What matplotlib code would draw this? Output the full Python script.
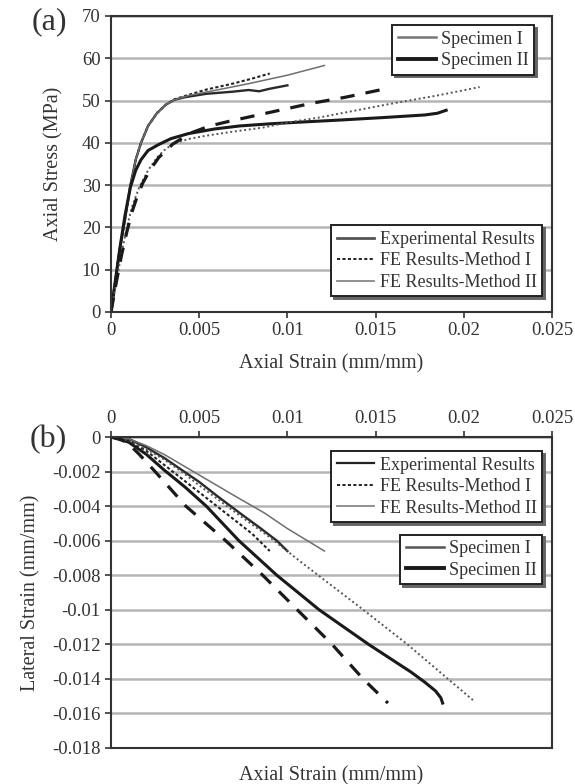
import matplotlib
matplotlib.use("Agg")
import matplotlib.pyplot as plt
from matplotlib.lines import Line2D

plt.rcParams['font.family'] = ['Liberation Serif', 'DejaVu Serif']
TXT = '#333333'

# ---------------- Panel (a): axial stress vs axial strain ----------------
a_s1_exp_x = [0, 0.0002, 0.0005, 0.0008, 0.0011, 0.0014, 0.0017, 0.0021, 0.0026, 0.0031, 0.0036, 0.0042, 0.0054, 0.0069, 0.0078, 0.0084, 0.0090, 0.0100]
a_s1_exp_y = [0, 6, 15, 22, 30, 36, 40, 44, 47, 49, 50.2, 50.8, 51.6, 52.1, 52.5, 52.2, 52.8, 53.6]
a_s1_m1_x = [0, 0.0002, 0.0005, 0.0008, 0.0011, 0.0014, 0.0017, 0.0021, 0.0026, 0.0031, 0.0036, 0.0042, 0.0054, 0.0069, 0.0080, 0.0090]
a_s1_m1_y = [0, 6, 15, 22, 30, 36, 40, 44, 47, 49, 50.3, 51.1, 52.6, 54.0, 55.2, 56.4]
a_s1_m2_x = [0, 0.0002, 0.0005, 0.0008, 0.0011, 0.0014, 0.0017, 0.0021, 0.0026, 0.0031, 0.0036, 0.0044, 0.0060, 0.0078, 0.0100, 0.0121]
a_s1_m2_y = [0, 6, 15, 22, 30, 36, 40, 44, 47, 49, 50.2, 51.2, 52.5, 54.0, 56.0, 58.3]

a_s2_exp_x = [0, 0.0002, 0.0005, 0.0008, 0.0011, 0.0014, 0.0017, 0.0021, 0.0027, 0.0034, 0.0044, 0.0059, 0.0073, 0.0090, 0.0107, 0.0130, 0.0155, 0.0178, 0.0185, 0.0190]
a_s2_exp_y = [0, 6, 15, 23, 29.5, 33.5, 36.0, 38.2, 39.6, 41.0, 42.2, 43.3, 44.0, 44.5, 44.9, 45.4, 46.0, 46.6, 47.0, 47.7]
a_s2_m1_x = [0, 0.0003, 0.0006, 0.0009, 0.0012, 0.0016, 0.0021, 0.0026, 0.0030, 0.0035, 0.0045, 0.0054, 0.0070, 0.0086, 0.0100, 0.0118, 0.0133, 0.0158, 0.0185, 0.0209]
a_s2_m1_y = [0, 7, 14, 20, 25, 29.5, 33.5, 36.5, 38.2, 39.8, 41.0, 41.7, 42.7, 43.6, 44.8, 46.0, 47.2, 49.2, 51.2, 53.2]
a_s2_m2_x = [0, 0.0003, 0.0006, 0.0009, 0.0012, 0.0015, 0.0018, 0.0022, 0.0027, 0.0035, 0.0045, 0.0056, 0.0067, 0.0078, 0.0090, 0.0101, 0.0113, 0.0133, 0.0158]
a_s2_m2_y = [0, 7, 13.5, 19, 23.8, 27.5, 30.5, 33.5, 36.5, 39.7, 42.3, 44.0, 45.1, 46.1, 47.2, 48.2, 49.3, 50.8, 53.0]

# ---------------- Panel (b): lateral strain vs axial strain ----------------
b_s1_exp_x = [0, 0.001, 0.002, 0.003, 0.004, 0.005, 0.006, 0.0073, 0.0085, 0.0094, 0.0100]
b_s1_exp_y = [0, -0.0001, -0.0006, -0.0012, -0.0019, -0.0026, -0.0034, -0.0044, -0.0053, -0.0060, -0.0066]
b_s1_m1_x = [0, 0.001, 0.002, 0.003, 0.004, 0.005, 0.0065, 0.0080, 0.0090]
b_s1_m1_y = [0, -0.0002, -0.0008, -0.0016, -0.0024, -0.0032, -0.0044, -0.0056, -0.0066]
b_s1_m2_x = [0, 0.001, 0.002, 0.003, 0.004, 0.005, 0.006, 0.0070, 0.0087, 0.0100, 0.0121]
b_s1_m2_y = [0, -0.0001, -0.0005, -0.0010, -0.0016, -0.0022, -0.0028, -0.0034, -0.0044, -0.0053, -0.0066]

b_s2_exp_x = [0, 0.0010, 0.0020, 0.0030, 0.0042, 0.0054, 0.00725, 0.0094, 0.0118, 0.0146, 0.0170, 0.0178, 0.0184, 0.0187, 0.0188]
b_s2_exp_y = [0, -0.0003, -0.0010, -0.0019, -0.0029, -0.0040, -0.0060, -0.0080, -0.0100, -0.0120, -0.0136, -0.0142, -0.0147, -0.0151, -0.0154]
b_s2_m1_x = [0, 0.001, 0.002, 0.003, 0.004, 0.005, 0.0071, 0.0090, 0.0106, 0.0120, 0.0143, 0.0168, 0.0191, 0.0206]
b_s2_m1_y = [0, -0.0002, -0.0007, -0.0013, -0.0020, -0.0028, -0.0044, -0.0058, -0.0071, -0.0082, -0.0100, -0.0120, -0.0140, -0.0153]
b_s2_m2_x = [0, 0.0005, 0.0010, 0.0016, 0.0025, 0.00424, 0.0065, 0.0086, 0.01056, 0.01253, 0.01429, 0.0157]
b_s2_m2_y = [0, -0.0001, -0.0004, -0.0010, -0.0020, -0.0040, -0.0060, -0.0080, -0.0100, -0.0120, -0.0140, -0.0154]

a_yticks = [0, 10, 20, 30, 40, 50, 60, 70]
b_yticks = [0, -0.002, -0.004, -0.006, -0.008, -0.01, -0.012, -0.014, -0.016, -0.018]
b_ytick_labels = ['0', '-0.002', '-0.004', '-0.006', '-0.008', '-0.01', '-0.012', '-0.014', '-0.016', '-0.018']
xticks = [0, 0.005, 0.01, 0.015, 0.02, 0.025]
xtick_labels = ['0', '0.005', '0.01', '0.015', '0.02', '0.025']

# styles
S1_EXP = dict(color='#2a2a2a', lw=1.7, ls='-')
S1_M1 = dict(color='#222222', lw=1.5, ls=(0, (1.5, 1.1)))
S1_M2 = dict(color='#6e6e6e', lw=1.1, ls='-')
S2_EXP = dict(color='#1a1a1a', lw=2.2, ls='-')
S2_M1 = dict(color='#555555', lw=1.4, ls=(0, (1.0, 1.4)))
S2_M2 = dict(color='#1a1a1a', lw=2.3, ls=(0, (4.5, 3.5)))

fig = plt.figure(figsize=(5.75, 7.84), dpi=100)
axA = fig.add_axes([111/575, 1-312/784, 441/575, 296/784])
axB = fig.add_axes([111/575, 1-748/784, 441/575, 311/784])

TICK_FS = 13.5
LABEL_FS = 14.5

def style_axes(ax):
    for side in ['left', 'bottom', 'top', 'right']:
        ax.spines[side].set_color('#333333')
        ax.spines[side].set_linewidth(1.5)
    ax.grid(axis='y', color='#b5b5b5', lw=1.8)
    ax.set_axisbelow(True)
    ax.tick_params(colors='#333333', labelcolor=TXT, labelsize=TICK_FS, length=4, width=1.2, direction='out')

# Panel (a)
axA.plot(a_s1_exp_x, a_s1_exp_y, **S1_EXP)
axA.plot(a_s1_m1_x, a_s1_m1_y, **S1_M1)
axA.plot(a_s1_m2_x, a_s1_m2_y, **S1_M2)
axA.plot(a_s2_exp_x, a_s2_exp_y, **S2_EXP)
axA.plot(a_s2_m1_x, a_s2_m1_y, **S2_M1)
axA.plot(a_s2_m2_x, a_s2_m2_y, **S2_M2)
axA.set_xlim(0, 0.025)
axA.set_ylim(0, 70)
axA.set_xticks(xticks)
axA.set_xticklabels(xtick_labels)
axA.set_yticks(a_yticks)
style_axes(axA)
axA.set_xlabel('Axial Strain (mm/mm)', fontsize=LABEL_FS, color=TXT, labelpad=11)
axA.set_ylabel('Axial Stress (MPa)', fontsize=LABEL_FS, color=TXT, labelpad=13)
fig.text(49/575, 1-22/784, '(a)', fontsize=23, color=TXT, ha='center', va='center')

leg_kw = dict(frameon=True, fancybox=False, edgecolor='#222222', fontsize=13,
              handlelength=2.1, handletextpad=0.3, borderpad=0.3, labelspacing=0.25,
              borderaxespad=0, labelcolor=TXT, framealpha=1,
              shadow={'color': '#666666', 'alpha': 1})

spec_handles = [Line2D([], [], color='#777777', lw=1.8), Line2D([], [], color='#1a1a1a', lw=2.8)]
spec_labels = ['Specimen I', 'Specimen II']
meth_handles = [Line2D([], [], color='#555555', lw=2.0), Line2D([], [], color='#222222', lw=1.4, ls=(0, (1.6, 1.2))),
                Line2D([], [], color='#888888', lw=1.3)]
meth_labels = ['Experimental Results', 'FE Results-Method I', 'FE Results-Method II']

l1 = axA.legend(spec_handles, spec_labels, loc='upper right', bbox_to_anchor=(0.96, 0.969), **leg_kw)
l1.get_frame().set_linewidth(1.4)
axA.add_artist(l1)
l2 = axA.legend(meth_handles, meth_labels, loc='lower right', bbox_to_anchor=(0.978, 0.053), **leg_kw)
l2.get_frame().set_linewidth(1.4)

# Panel (b)
axB.plot(b_s1_exp_x, b_s1_exp_y, **S1_EXP)
axB.plot(b_s1_m1_x, b_s1_m1_y, **S1_M1)
axB.plot(b_s1_m2_x, b_s1_m2_y, **S1_M2)
axB.plot(b_s2_exp_x, b_s2_exp_y, **S2_EXP)
axB.plot(b_s2_m1_x, b_s2_m1_y, **S2_M1)
axB.plot(b_s2_m2_x, b_s2_m2_y, **S2_M2)
axB.set_xlim(0, 0.025)
axB.set_ylim(-0.018, 0)
axB.set_xticks(xticks)
axB.set_xticklabels(xtick_labels)
axB.set_yticks(b_yticks)
axB.set_yticklabels(b_ytick_labels)
style_axes(axB)
axB.xaxis.tick_top()
axB.xaxis.set_label_position('bottom')
axB.set_xlabel('Axial Strain (mm/mm)', fontsize=LABEL_FS, color=TXT, labelpad=13)
axB.set_ylabel('Lateral Strain (mm/mm)', fontsize=LABEL_FS, color=TXT, labelpad=8)
fig.text(48/575, 1-440/784, '(b)', fontsize=23, color=TXT, ha='center', va='center')

meth_handles_b = [Line2D([], [], color='#222222', lw=1.6), Line2D([], [], color='#222222', lw=1.4, ls=(0, (1.6, 1.2))),
                  Line2D([], [], color='#888888', lw=1.3)]
l3 = axB.legend(meth_handles_b, meth_labels, loc='upper right', bbox_to_anchor=(0.978, 0.954), **leg_kw)
l3.get_frame().set_linewidth(1.4)
axB.add_artist(l3)
spec_handles_b = [Line2D([], [], color='#555555', lw=1.8), Line2D([], [], color='#1a1a1a', lw=2.8)]
l4 = axB.legend(spec_handles_b, spec_labels, loc='upper right', bbox_to_anchor=(0.978, 0.686), **leg_kw)
l4.get_frame().set_linewidth(1.4)

fig.savefig('out.png', dpi=100, facecolor='white')
